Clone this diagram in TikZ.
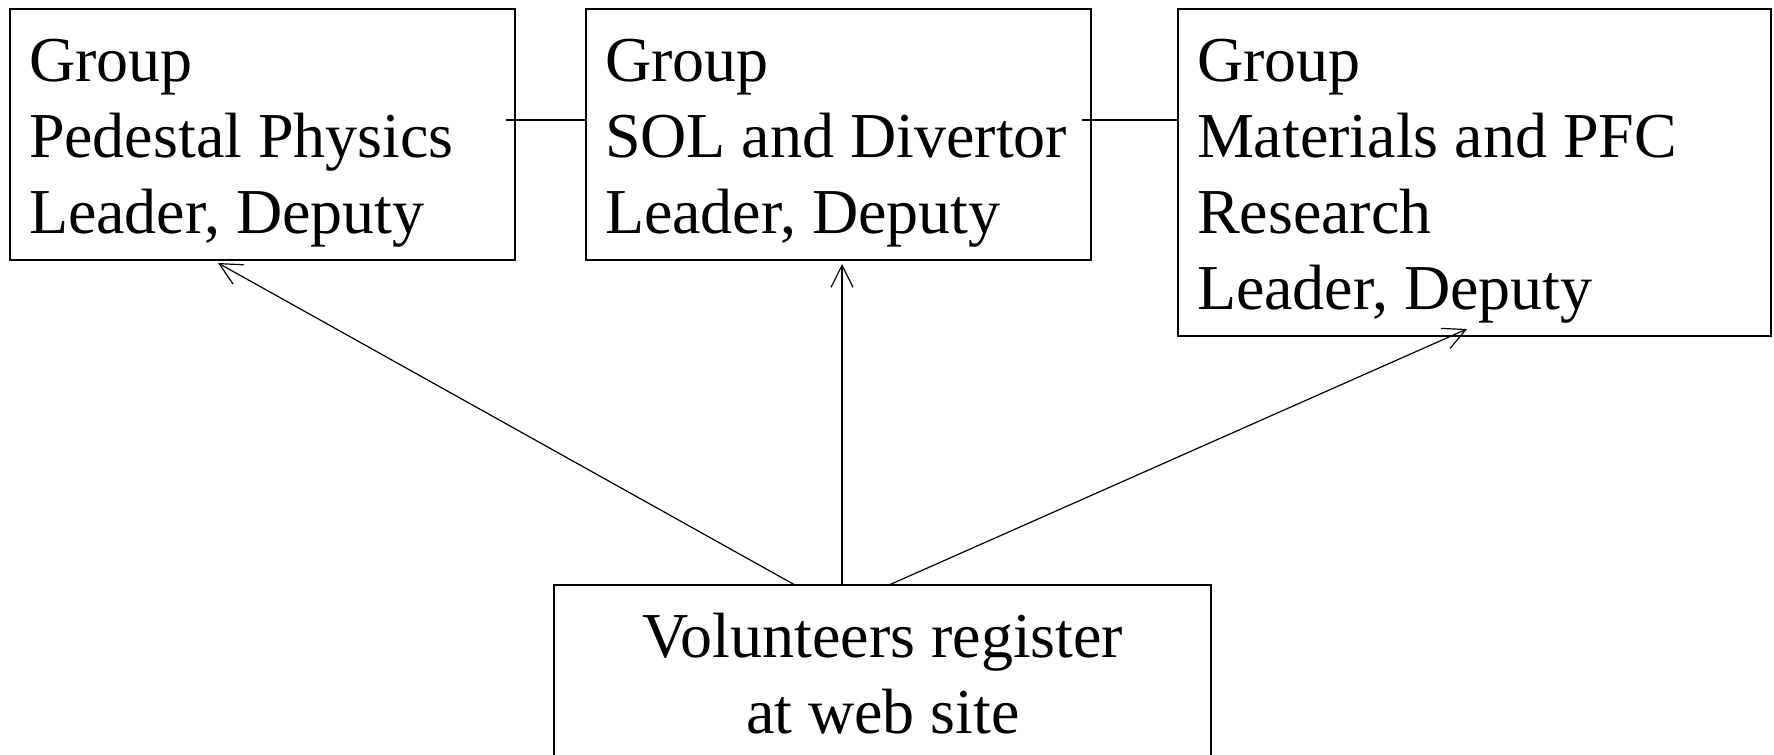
\documentclass[tikz,border=0pt]{standalone}
\usepackage{fontspec}
\setmainfont{Liberation Serif}
\usetikzlibrary{arrows.meta}
\begin{document}
\begin{tikzpicture}[x=0.5pt,y=-0.5pt,
  boxnode/.style={draw,line width=0.7pt,inner sep=0pt,outer sep=0pt,anchor=north west},
  txt/.style={inner sep=0pt,outer sep=0pt,font=\fontsize{32}{38}\selectfont},
  link/.style={line width=0.6pt},
  arr/.style={line width=0.6pt,-{Straight Barb[length=11pt,width=11pt]}}]
\useasboundingbox (0,0) rectangle (1774,755);
\clip (0,0) rectangle (1774,755);
\node[boxnode,minimum width=252.5pt,minimum height=125.5pt] (b1) at (10,9) {};
\node[boxnode,minimum width=252.5pt,minimum height=125.5pt] (b2) at (586,9) {};
\node[boxnode,minimum width=296.5pt,minimum height=163.5pt] (b3) at (1178,9) {};
\node[boxnode,minimum width=328.5pt,minimum height=120pt] (b4) at (554,585) {};
\node[txt,anchor=north west,align=left] (t1) at ([shift={(19,24)}]b1.north west) {\rule{0pt}{24pt}Group\\Pedestal Physics\\Leader, Deputy};
\node[txt,anchor=north west,align=left] (t2) at ([shift={(19,24)}]b2.north west) {\rule{0pt}{24pt}Group\\SOL and Divertor\\Leader, Deputy};
\node[txt,anchor=north west,align=left] (t3) at ([shift={(19,24)}]b3.north west) {\rule{0pt}{24pt}Group\\Materials and PFC\\Research\\Leader, Deputy};
\node[txt,anchor=north,align=center] (t4) at ([shift={(329,24)}]b4.north west) {\rule{0pt}{24pt}Volunteers register\\at web site};
\draw[link] ([shift={(-9,111)}]b1.north east) coordinate (c1) -- (c1 -| b2.west);
\draw[link] ([shift={(-9,111)}]b2.north east) coordinate (c2) -- (c2 -| b3.west);
\draw[arr] ([xshift=120.5pt]b4.north west) -- ([shift={(208,3)}]b1.south west);
\draw[arr] ([xshift=144pt]b4.north west) -- ([shift={(256,4)}]b2.south west);
\draw[arr] ([xshift=167.5pt]b4.north west) -- ([shift={(289,-7)}]b3.south west);
\end{tikzpicture}
\end{document}
